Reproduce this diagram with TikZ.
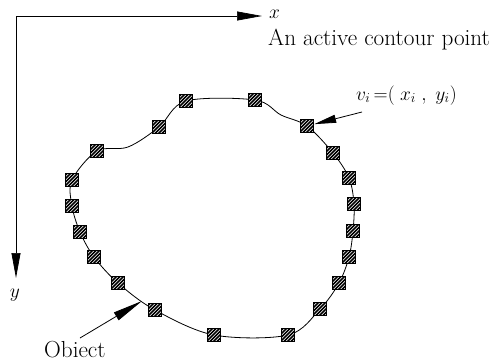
\RequirePackage{fix-cm}
\documentclass[tikz,border=0pt]{standalone}
\usetikzlibrary{arrows.meta}
\begin{document}
\begin{tikzpicture}[x=1pt,y=-1pt,
  cpt/.style={draw, line width=1.4pt, minimum size=13pt, inner sep=0pt, fill=white,
    path picture={\foreach \k in {-15,-11.5,...,15}{\draw[line width=1.5pt] ([xshift=\k pt]path picture bounding box.south west) -- ++(17pt,17pt);}}},
  axisline/.style={line width=0.7pt, -{Triangle[length=25pt,width=9pt]}},
  lbl/.style={font=\fontsize{23.2}{27}\selectfont, inner sep=0pt},
  mlbl/.style={font=\fontsize{19.5}{23}\selectfont, inner sep=0pt},
  pointer/.style={line width=0.8pt},
  contour/.style={line width=0.8pt}]
\useasboundingbox (0,0) rectangle (503,362);
% axes
\coordinate (o) at (16,16);
\coordinate (xe) at (262,16);
\coordinate (ye) at (16,278);
\draw[axisline] (o) -- (xe);
\draw[axisline] (o) -- (ye);
\node[mlbl] (xlab) at (274.5,14) {$x$};
\node[mlbl] (ylab) at (15,295) {$y$};
% contour points
\coordinate (c1) at (97,151);
\coordinate (h1) at (128,147);
\coordinate (c2) at (159,127);
\coordinate (c3) at (186,101);
\coordinate (c4) at (255,100);
\coordinate (h2) at (281,115);
\coordinate (c5) at (307,126);
\coordinate (c6) at (333,153);
\coordinate (c7) at (349,178);
\coordinate (c8) at (354,204);
\coordinate (c9) at (353,231);
\coordinate (c10) at (349,257);
\coordinate (c11) at (339,283);
\coordinate (c12) at (320,309);
\coordinate (c13) at (288,335);
\coordinate (c14) at (214,335);
\coordinate (c15) at (155,310);
\coordinate (c16) at (118,283);
\coordinate (c17) at (94,257);
\coordinate (c18) at (80,232);
\coordinate (c19) at (72,206);
\coordinate (c20) at (72,180);
\draw[contour] plot[smooth cycle, tension=0.55] coordinates {(c1) (h1) (c2) (c3) (c4) (h2) (c5) (c6) (c7) (c8) (c9) (c10) (c11) (c12) (c13) (c14) (c15) (c16) (c17) (c18) (c19) (c20)};
\foreach \i in {1,...,20}{\node[cpt] (s\i) at (c\i) {};}
% labels
\node[lbl, anchor=base west] (title) at (268,45) {An active contour point};
\node[mlbl, anchor=base west] (vlab) at (356,100) {$v_i\,{=}(\;x_i\;,\;y_i)$};
\coordinate (vtail) at (362,112);
\draw[pointer, -{Triangle[length=22pt,width=8pt]}] (vtail) -- (s5);
\node[lbl, anchor=base west] (obj) at (44,357.5) {Obiect};
\coordinate (objtail) at (80,338);
\coordinate (objtip) at (142,301);
\draw[pointer, -{Triangle[length=30pt,width=9pt]}] (objtail) -- (objtip);
\end{tikzpicture}
\end{document}
